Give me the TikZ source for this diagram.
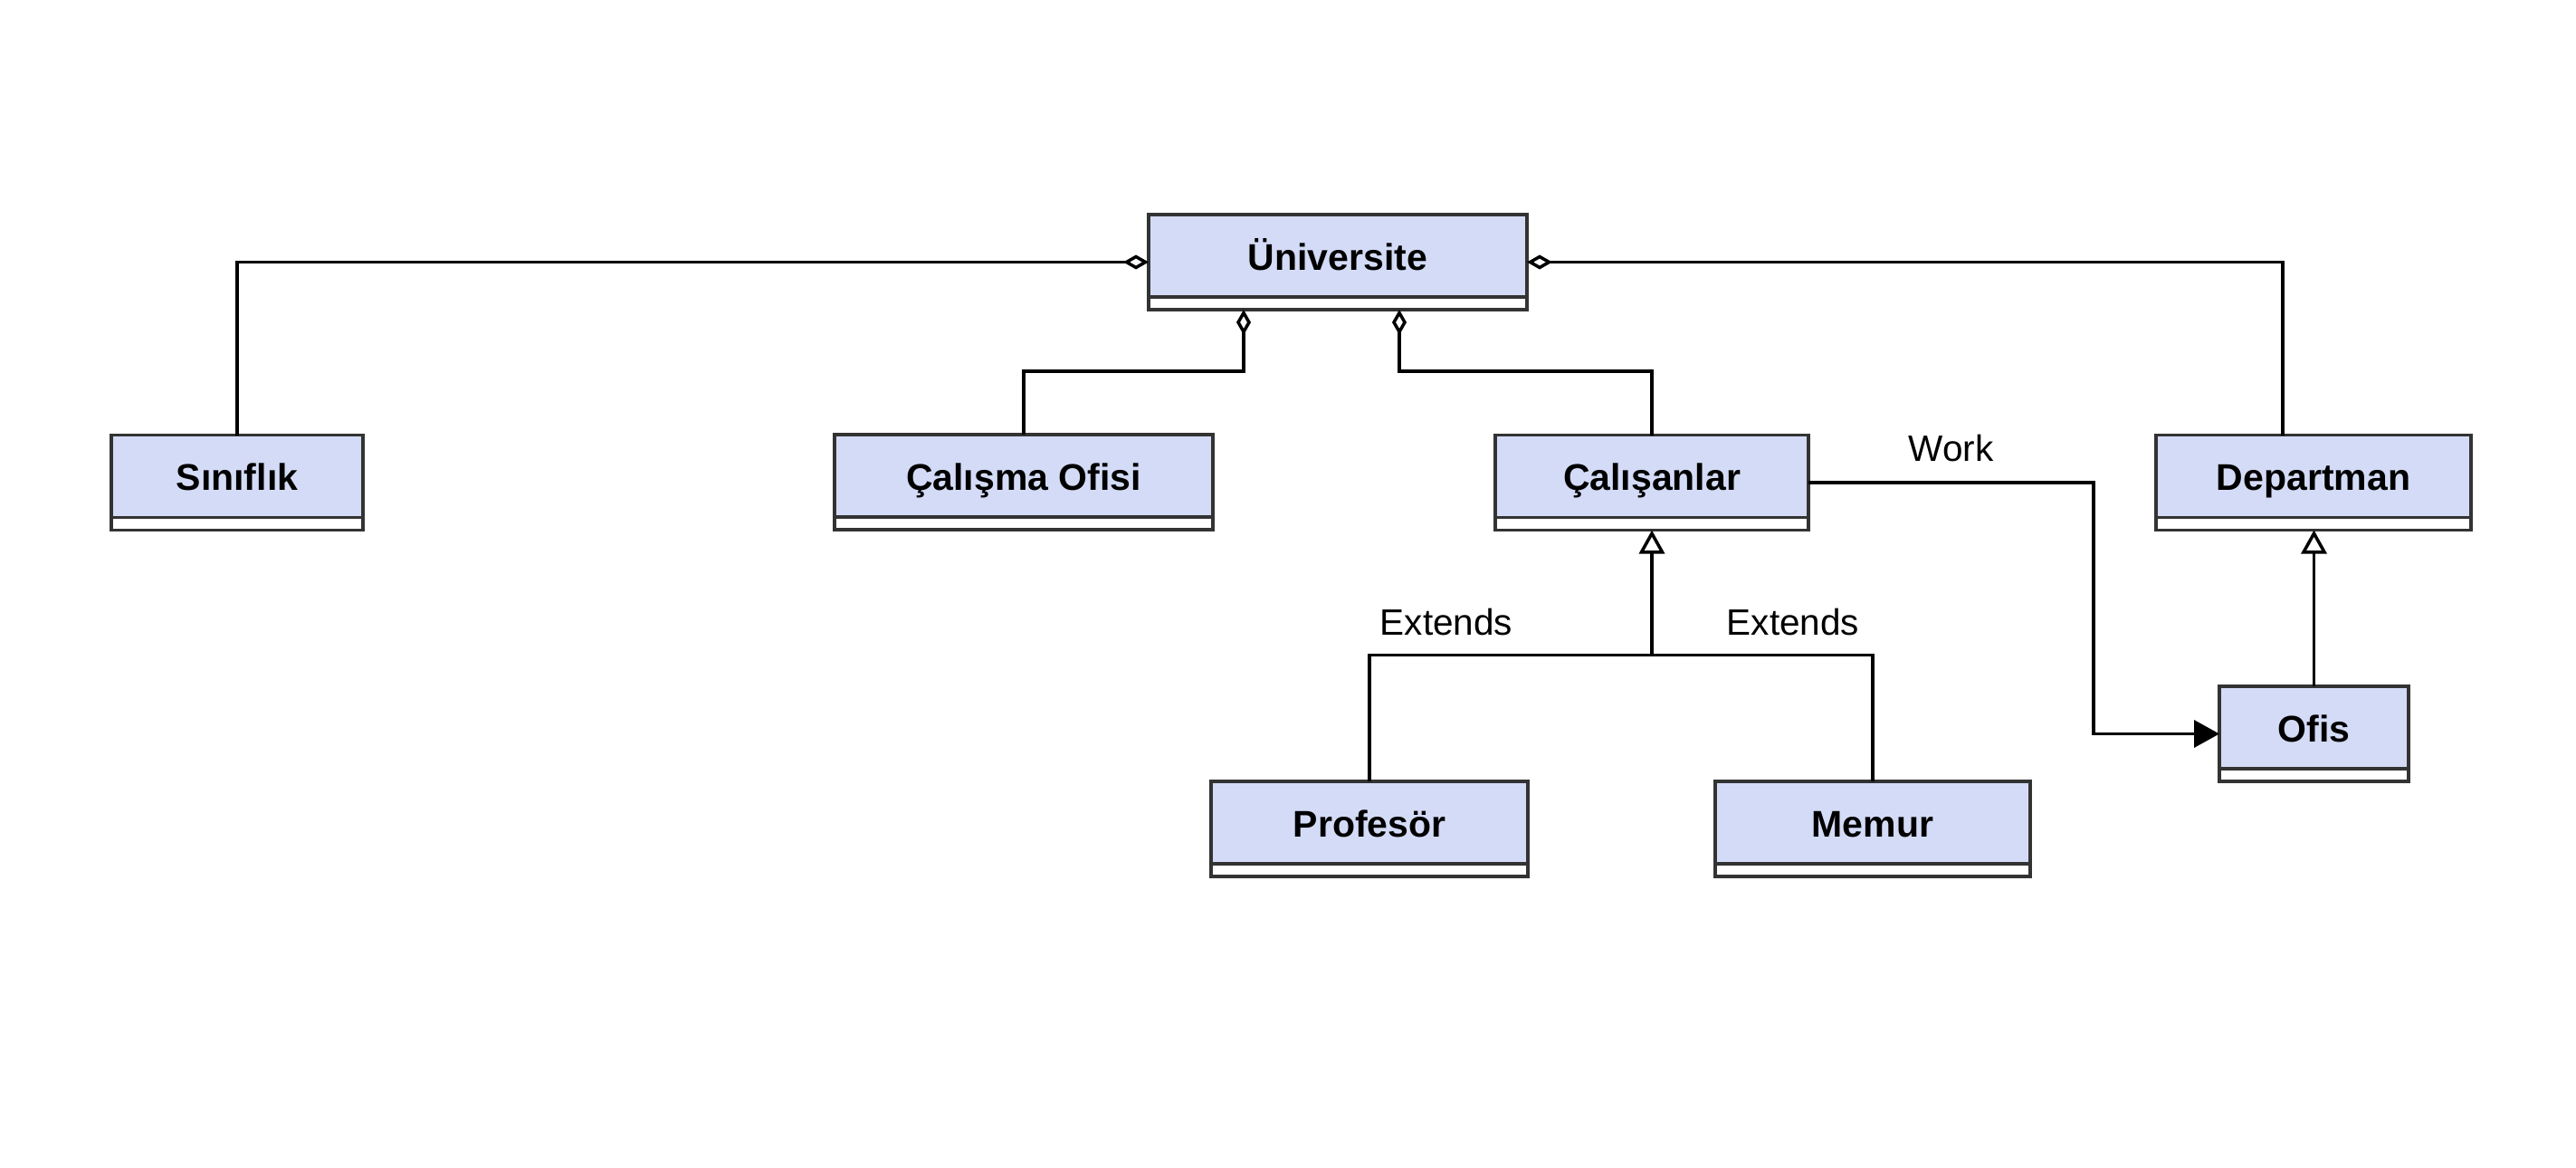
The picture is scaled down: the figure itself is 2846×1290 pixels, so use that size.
\documentclass[tikz,border=0pt]{standalone}
\usepackage{fontspec}
\setmainfont{Liberation Sans}
\usetikzlibrary{arrows.meta}
\definecolor{clsfill}{RGB}{212,219,246}
\definecolor{clsline}{RGB}{51,51,51}
\tikzset{
  clsbox/.style={rectangle, draw=clsline, fill=clsfill, line width=3.5pt, minimum height=105pt, inner sep=0pt, outer sep=0pt},
  clstext/.style={font=\fontsize{41}{49}\selectfont\bfseries, inner sep=0pt, anchor=base},
  elabel/.style={font=\fontsize{40.5}{48}\selectfont, inner sep=0pt, anchor=base},
  conn/.style={line width=3.5pt, black},
  agg/.style={conn, {Diamond[open, length=28pt, width=16pt]}-},
  gen/.style={conn, -{Triangle[open, length=26pt, width=28pt]}},
  nav/.style={conn, -{Triangle[length=28pt, width=30pt]}},
}
\newcommand{\umlcls}[5]{%
  \node[clsbox, minimum width=#4pt] (#1) at (#2,#3) {};
  \fill[white] ([shift={(1.75pt,1.75pt)}]#1.south west) rectangle ([shift={(-1.75pt,14pt)}]#1.south east);
  \draw[draw=clsline, line width=3.5pt] ([yshift=14pt]#1.south west) -- ([yshift=14pt]#1.south east);
  \node[clstext] at ([yshift=-8.5pt]#1.center) {#5};
}
\begin{document}
\begin{tikzpicture}[x=1pt, y=-1pt]
  \fill[white] (0,0) rectangle (2846,1290);
  \useasboundingbox (0,0) rectangle (2846,1290);

  \umlcls{uni}{1478}{289.5}{418}{Üniversite}
  \umlcls{sin}{262}{533}{278}{Sınıflık}
  \umlcls{cof}{1131}{532.5}{418}{Çalışma Ofisi}
  \umlcls{cal}{1825}{533}{346}{Çalışanlar}
  \umlcls{dep}{2556}{533}{348}{Departman}
  \umlcls{prof}{1513}{915.5}{350}{Profesör}
  \umlcls{mem}{2069}{915.5}{348}{Memur}
  \umlcls{ofis}{2556.5}{810.5}{209}{Ofis}

  % aggregations from Universite
  \draw[agg] (uni.west) -| (sin.north);
  \draw[agg] (uni.east) -| ([xshift=-34pt]dep.north);
  \draw[agg] ([xshift=-104pt]uni.south) -- ++(0,68) -| (cof.north);
  \draw[agg] ([xshift=68pt]uni.south) -- ++(0,68) -| (cal.north);

  % association Work
  \draw[nav] (cal.east) -- node[elabel, midway, yshift=24pt] {Work} ++(315,0) |- (ofis.west);

  % generalizations
  \coordinate (jn) at ([yshift=-138pt]cal.south);
  \draw[conn] (prof.north) |- (jn) -| (mem.north);
  \draw[gen] (jn) -- (cal.south);
  \node[elabel] (ext1) at ([xshift=-227pt, yshift=22.5pt]jn) {Extends};
  \node[elabel] (ext2) at ([xshift=156pt, yshift=22.5pt]jn) {Extends};

  \draw[gen] (ofis.north) -- (ofis.north |- dep.south);
\end{tikzpicture}
\end{document}
